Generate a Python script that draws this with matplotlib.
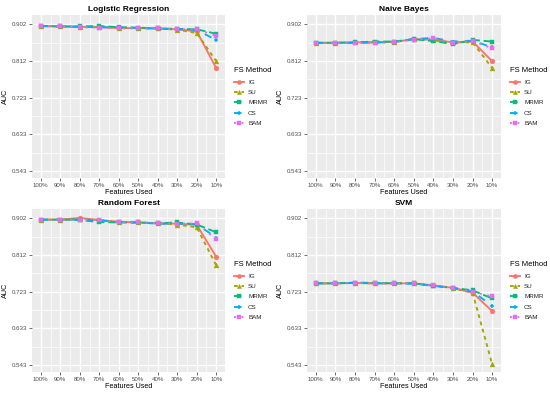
import numpy as np
import matplotlib
matplotlib.use('Agg')
import matplotlib.pyplot as plt
from matplotlib.lines import Line2D

plt.rcParams['font.family'] = ['Liberation Sans', 'DejaVu Sans']

features = ['100%', '90%', '80%', '70%', '60%', '50%', '40%', '30%', '20%', '10%']
methods = ['IG', 'SU', 'MRMR', 'CS', 'BAM']
y_ticks = [0.543, 0.63275, 0.7225, 0.81225, 0.902]
y_labels = ['0.543', '0.633', '0.723', '0.812', '0.902']

lr_ig = [0.898, 0.897, 0.896, 0.895, 0.893, 0.893, 0.892, 0.890, 0.885, 0.795]
lr_su = [0.898, 0.897, 0.896, 0.896, 0.894, 0.893, 0.892, 0.889, 0.881, 0.812]
lr_mrmr = [0.898, 0.897, 0.897, 0.898, 0.895, 0.894, 0.892, 0.891, 0.890, 0.879]
lr_cs = [0.898, 0.897, 0.896, 0.895, 0.895, 0.893, 0.892, 0.890, 0.888, 0.864]
lr_bam = [0.898, 0.897, 0.895, 0.894, 0.892, 0.892, 0.892, 0.890, 0.890, 0.874]

nb_ig = [0.857, 0.857, 0.858, 0.858, 0.859, 0.866, 0.864, 0.858, 0.860, 0.812]
nb_su = [0.857, 0.857, 0.858, 0.858, 0.859, 0.866, 0.863, 0.858, 0.858, 0.795]
nb_mrmr = [0.857, 0.857, 0.858, 0.860, 0.860, 0.866, 0.861, 0.854, 0.864, 0.860]
nb_cs = [0.857, 0.856, 0.857, 0.857, 0.860, 0.866, 0.869, 0.860, 0.862, 0.846]
nb_bam = [0.857, 0.856, 0.857, 0.856, 0.858, 0.865, 0.868, 0.857, 0.862, 0.843]

rf_ig = [0.899, 0.899, 0.903, 0.898, 0.894, 0.892, 0.890, 0.889, 0.886, 0.808]
rf_su = [0.899, 0.899, 0.901, 0.898, 0.893, 0.892, 0.890, 0.887, 0.880, 0.787]
rf_mrmr = [0.899, 0.899, 0.898, 0.893, 0.892, 0.892, 0.890, 0.892, 0.887, 0.868]
rf_cs = [0.899, 0.899, 0.899, 0.897, 0.893, 0.892, 0.889, 0.889, 0.888, 0.855]
rf_bam = [0.899, 0.898, 0.899, 0.898, 0.893, 0.892, 0.890, 0.889, 0.890, 0.851]

svm_ig = [0.743, 0.743, 0.744, 0.743, 0.743, 0.743, 0.738, 0.732, 0.720, 0.675]
svm_su = [0.743, 0.743, 0.744, 0.743, 0.743, 0.744, 0.738, 0.731, 0.720, 0.545]
svm_mrmr = [0.743, 0.743, 0.745, 0.744, 0.743, 0.743, 0.737, 0.732, 0.726, 0.706]
svm_cs = [0.743, 0.743, 0.744, 0.743, 0.743, 0.742, 0.737, 0.731, 0.723, 0.688]
svm_bam = [0.743, 0.743, 0.744, 0.743, 0.743, 0.743, 0.738, 0.732, 0.722, 0.711]

panels = [
    ('Logistic Regression', [lr_ig, lr_su, lr_mrmr, lr_cs, lr_bam]),
    ('Naive Bayes', [nb_ig, nb_su, nb_mrmr, nb_cs, nb_bam]),
    ('Random Forest', [rf_ig, rf_su, rf_mrmr, rf_cs, rf_bam]),
    ('SVM', [svm_ig, svm_su, svm_mrmr, svm_cs, svm_bam]),
]

colors = ['#F8766D', '#A3A500', '#00BF7D', '#00B0F6', '#E76BF3']
dashes = [None, (2, 2), (4, 2), (4, 4), (1, 3)]
markers = ['o', '^', 's', '+', 's']

W, H = 550, 393
fig = plt.figure(figsize=(W / 100, H / 100), dpi=100)

# panel boxes in pixels: left, top, right, bottom
boxes = [(32, 15, 225, 178), (307, 15, 501, 178),
         (32, 209, 225, 372), (307, 209, 501, 372)]


def style_line(line, i):
    if dashes[i] is not None:
        line.set_dashes(dashes[i])


x = np.arange(len(features))
for (title, series), (l, t, r, b) in zip(panels, boxes):
    ax = fig.add_axes([l / W, 1 - b / H, (r - l) / W, (b - t) / H])
    ax.set_facecolor('#EBEBEB')
    for s in ax.spines.values():
        s.set_visible(False)
    ax.set_xlim(-0.45, 9.45)
    ax.set_ylim(0.526, 0.925)
    ax.set_xticks(x)
    ax.set_xticklabels(features)
    ax.set_xticks(x[:-1] + 0.5, minor=True)
    ax.set_yticks(y_ticks)
    ax.set_yticklabels(y_labels)
    ax.set_yticks([(a + c) / 2 for a, c in zip(y_ticks[:-1], y_ticks[1:])], minor=True)
    ax.grid(which='major', color='white', lw=1.0)
    ax.grid(which='minor', color='white', lw=0.5)
    ax.set_axisbelow(True)
    ax.tick_params(which='major', length=2, width=0.5, color='#333333',
                   labelsize=4.4, labelcolor='#4D4D4D', pad=1.5)
    ax.tick_params(which='minor', length=0)
    for i, vals in enumerate(series):
        line, = ax.plot(x, vals, color=colors[i], lw=1.35, marker=markers[i],
                        markersize=3.5, markeredgewidth=1.1 if markers[i] == '+' else 0.3)
        style_line(line, i)
    ax.set_title(title, fontsize=6, fontweight='bold', pad=3)
    ax.set_xlabel('Features Used', fontsize=5.2, labelpad=1)
    ax.set_ylabel('AUC', fontsize=5.2, labelpad=2)

    handles = []
    for i in range(len(methods)):
        h = Line2D([], [], color=colors[i], lw=1.35, marker=markers[i], markersize=3,
                   markeredgewidth=1.1 if markers[i] == '+' else 0.3)
        style_line(h, i)
        handles.append(h)
    leg = fig.legend(handles, methods, title='FS Method', loc='upper left',
                     bbox_to_anchor=((r + 5) / W, 1 - (t + 48) / H),
                     frameon=False, fontsize=4.5, title_fontsize=5.5,
                     handlelength=1.6, handletextpad=0.6, labelspacing=0.8,
                     borderpad=0.2)
    leg._legend_box.align = 'left'
    for txt in leg.get_texts():
        txt.set_color('#222222')

fig.savefig('out.png', dpi=100)
